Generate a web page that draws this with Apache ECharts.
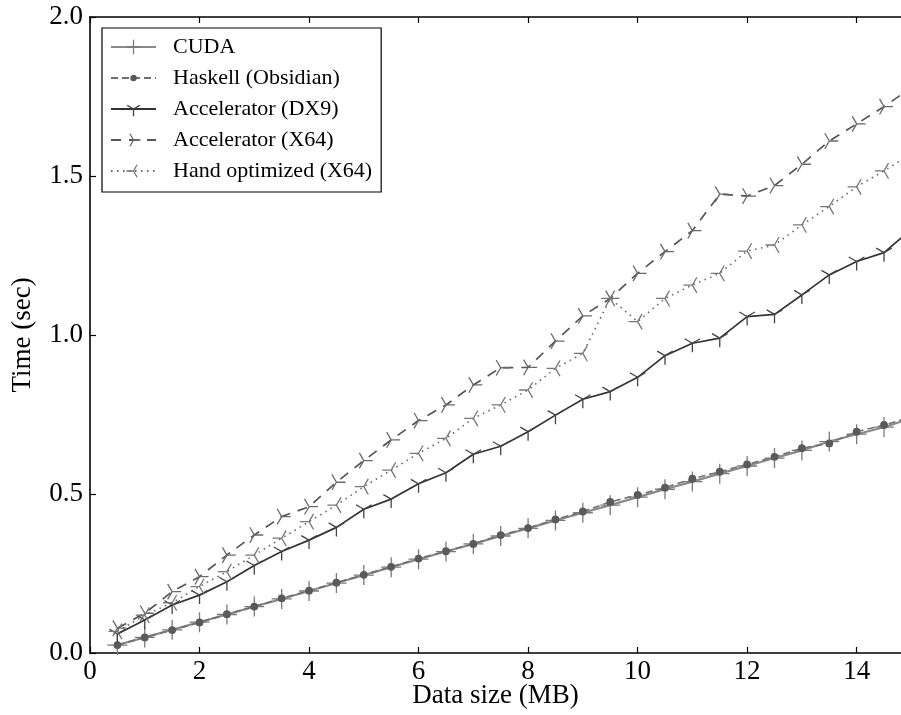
<!DOCTYPE html>
<html>
<head>
<meta charset="utf-8">
<script src="https://cdn.jsdelivr.net/npm/echarts@6/dist/echarts.min.js"></script>
<style>
html,body{margin:0;padding:0;background:#fff;}
#chart{width:901px;height:715px;}
</style>
</head>
<body>
<div id="chart"></div>
<script>
// ---- data ----
var sizesMB = [0.5,1.0,1.5,2.0,2.5,3.0,3.5,4.0,4.5,5.0,5.5,6.0,6.5,7.0,7.5,8.0,8.5,9.0,9.5,10.0,10.5,11.0,11.5,12.0,12.5,13.0,13.5,14.0,14.5,15.0];
var cuda    = [0.025,0.049,0.073,0.097,0.121,0.146,0.170,0.195,0.220,0.245,0.270,0.295,0.319,0.343,0.368,0.392,0.417,0.441,0.465,0.490,0.515,0.539,0.564,0.588,0.613,0.637,0.665,0.688,0.710,0.738];
var haskell = [0.025,0.049,0.072,0.096,0.122,0.146,0.172,0.196,0.221,0.246,0.271,0.297,0.320,0.343,0.371,0.393,0.420,0.445,0.475,0.497,0.520,0.548,0.570,0.593,0.617,0.644,0.659,0.696,0.717,0.742];
var dx9     = [0.060,0.104,0.151,0.182,0.224,0.275,0.319,0.355,0.395,0.452,0.484,0.532,0.567,0.625,0.650,0.696,0.748,0.798,0.822,0.867,0.935,0.974,0.990,1.058,1.065,1.126,1.189,1.231,1.259,1.333];
var x64     = [0.078,0.125,0.193,0.240,0.308,0.371,0.429,0.460,0.537,0.605,0.670,0.731,0.780,0.843,0.897,0.898,0.981,1.060,1.115,1.194,1.262,1.328,1.443,1.437,1.470,1.537,1.610,1.664,1.718,1.778];
var hand    = [0.068,0.119,0.158,0.209,0.256,0.308,0.361,0.413,0.465,0.523,0.575,0.628,0.675,0.738,0.780,0.827,0.895,0.942,1.115,1.042,1.115,1.157,1.194,1.264,1.283,1.346,1.404,1.466,1.516,1.570];
var seriesNames = ['CUDA','Haskell (Obsidian)','Accelerator (DX9)','Accelerator (X64)','Hand optimized (X64)'];
var xTicks = [0,2,4,6,8,10,12,14];
var yTicks = [0.0,0.5,1.0,1.5,2.0];

function pairs(ys){ return sizesMB.map(function(x,i){ return [x, ys[i]]; }); }

var BOX = ' M-1,-1 L-1,-1 M1,1 L1,1';
var SYM_PLUS = 'path://M0,-1 L0,1 M-1,0 L1,0' + BOX;
var SYM_DOT = 'path://M0.36,0 A0.36,0.36 0 1 1 -0.36,0 A0.36,0.36 0 1 1 0.36,0 Z' + BOX;
var SYM_TRI_DOWN = 'path://M0,0 L0,1 M0,0 L-0.866,-0.5 M0,0 L0.866,-0.5' + BOX;
var SYM_TRI_RIGHT = 'path://M0,0 L1,0 M0,0 L-0.5,-0.866 M0,0 L-0.5,0.866' + BOX;
var SYM_TRI_LEFT = 'path://M0,0 L-1,0 M0,0 L0.5,-0.866 M0,0 L0.5,0.866' + BOX;

var FONT = 'Liberation Serif';
var chart = echarts.init(document.getElementById('chart'), null, {renderer:'canvas'});

function mkSeries(name, ys, symbol, size, lineColor, lineWidth, lineType, symColor, fill){
  return {
    name: name, type: 'line', data: pairs(ys),
    symbol: symbol, symbolSize: size, showSymbol: true,
    animation: false, z: 2, clip: true,
    lineStyle: {color: lineColor, width: lineWidth, type: lineType},
    itemStyle: {color: fill || 'rgba(0,0,0,0)', borderColor: symColor, borderWidth: 1.3, opacity: 1},
    emphasis: {disabled: true}
  };
}

var XMAX = 14.81;
var tickStyle = {show: true, inside: true, length: 6, lineStyle: {color: '#000', width: 1.2}};

var option = {
  backgroundColor: '#fff',
  animation: false,
  textStyle: {fontFamily: FONT},
  grid: {left: 90, top: 17, right: 0, height: 636, show: false, containLabel: false, outerBoundsMode: 'none'},
  legend: {
    orient: 'vertical', left: 102, top: 28,
    padding: [8, 9, 10, 8],
    itemWidth: 45, itemHeight: 18, itemGap: 9,
    backgroundColor: '#fff', borderColor: '#000', borderWidth: 1.2,
    textStyle: {fontFamily: FONT, fontSize: 22, color: '#000', lineHeight: 22, padding: [0,0,0,12]},
    itemStyle: {borderWidth: 1.3},
    data: seriesNames,
    selectedMode: false
  },
  xAxis: [{
    type: 'value', position: 'bottom', min: 0, max: XMAX, interval: 2,
    name: 'Data size (MB)', nameLocation: 'middle', nameGap: 29, nameMoveOverlap: false,
    nameTextStyle: {fontFamily: FONT, fontSize: 27, color: '#000'},
    axisLine: {show: true, onZero: false, lineStyle: {color: '#000', width: 1.6}},
    axisTick: Object.assign({customValues: xTicks}, tickStyle),
    axisLabel: {fontFamily: FONT, fontSize: 27, color: '#000', margin: 5,
      customValues: xTicks, formatter: function(v){ return String(v); }},
    splitLine: {show: false}
  },{
    type: 'value', position: 'top', min: 0, max: XMAX, interval: 2,
    axisLine: {show: true, onZero: false, lineStyle: {color: '#000', width: 1.6}},
    axisTick: Object.assign({customValues: xTicks}, tickStyle),
    axisLabel: {show: false},
    splitLine: {show: false}
  }],
  yAxis: [{
    type: 'value', position: 'left', min: 0, max: 2, interval: 0.5,
    name: 'Time (sec)', nameLocation: 'middle', nameGap: 54, nameMoveOverlap: false,
    nameTextStyle: {fontFamily: FONT, fontSize: 27, color: '#000'},
    axisLine: {show: true, onZero: false, lineStyle: {color: '#000', width: 1.6}},
    axisTick: Object.assign({customValues: yTicks}, tickStyle),
    axisLabel: {fontFamily: FONT, fontSize: 27, color: '#000', margin: 7,
      customValues: yTicks, verticalAlign: 'middle', padding: [16,0,0,0],
      formatter: function(v){ return v.toFixed(1); }},
    splitLine: {show: false}
  }],
  series: [
    mkSeries(seriesNames[0], cuda, SYM_PLUS, 20, '#8a8a8a', 2.2, 'solid', '#7a7a7a'),
    mkSeries(seriesNames[1], haskell, SYM_DOT, 18, '#707070', 1.6, [7,4], '#5a5a5a', '#5a5a5a'),
    mkSeries(seriesNames[2], dx9, SYM_TRI_DOWN, 18, '#333333', 1.7, 'solid', '#444444'),
    mkSeries(seriesNames[3], x64, SYM_TRI_RIGHT, 18, '#555555', 1.7, [10,8], '#6a6a6a'),
    mkSeries(seriesNames[4], hand, SYM_TRI_LEFT, 18, '#666666', 1.6, [1.5,4.5], '#777777')
  ]
};
chart.setOption(option);
</script>
</body>
</html>
